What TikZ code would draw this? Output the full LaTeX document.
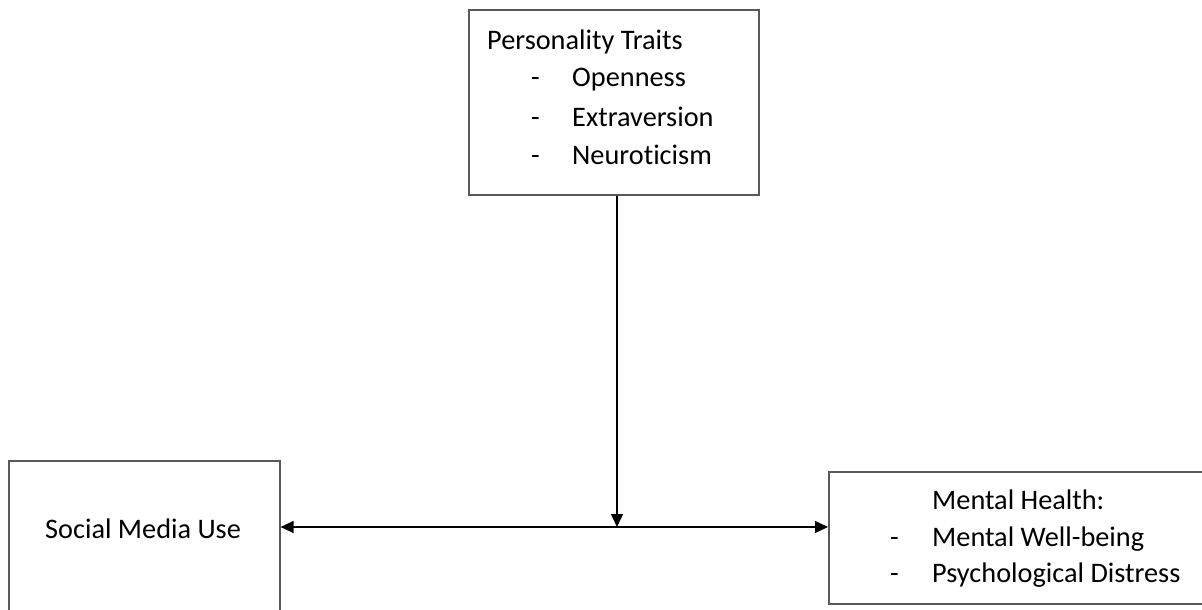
\documentclass[tikz,border=0pt]{standalone}
\usepackage{fontspec}
\setmainfont[Ligatures={NoCommon}]{Carlito}
\usetikzlibrary{arrows.meta}
\begin{document}
\begin{tikzpicture}[x=1pt,y=-1pt,
  box/.style={draw=black!65,line width=1.6pt,inner sep=0pt,anchor=north west},
  txt/.style={anchor=base west,inner sep=0pt,font=\fontsize{28.3}{34}\selectfont},
  conn/.style={draw=black,line width=1.3pt,-{Triangle[length=13pt,width=12pt]}},
  conn2/.style={draw=black,line width=1.3pt,{Triangle[length=13pt,width=12pt]}-{Triangle[length=13pt,width=12pt]}}]
\useasboundingbox (0,0) rectangle (1202,610);
\fill[white] (0,0) rectangle (1202,610);
% boxes
\node[box,minimum width=290pt,minimum height=185pt] (pt) at (468,9) {};
\node[box,minimum width=271pt,minimum height=170pt] (smu) at (8,460) {};
\node[box,minimum width=400pt,minimum height=132pt] (mh) at (828,471) {};
% texts
\node[txt] (t1) at (487,49) {Personality Traits};
\node[txt] (d1) at (531,87) {-};
\node[txt] (t2) at (572,87) {Openness};
\node[txt] (d2) at (531,126) {-};
\node[txt] (t3) at (572,126) {Extraversion};
\node[txt] (d3) at (531,164) {-};
\node[txt] (t4) at (572,164) {Neuroticism};
\node[txt] (s1) at (45,538) {Social Media Use};
\node[txt] (m1) at (932,509) {Mental Health:};
\node[txt] (md1) at (890,546) {-};
\node[txt] (m2) at (932,546) {Mental Well-being};
\node[txt] (md2) at (890,582) {-};
\node[txt] (m3) at (932,582) {Psychological Distress};
% connectors
\coordinate (mid) at (617,527);
\draw[conn2] (smu.east |- mid) -- (mh.west |- mid);
\draw[conn] (pt.south -| mid) -- (mid);
\end{tikzpicture}
\end{document}
